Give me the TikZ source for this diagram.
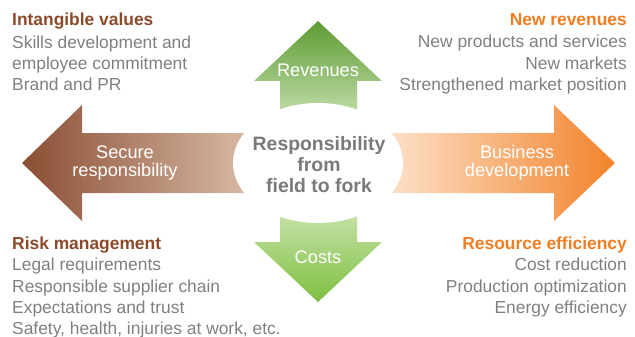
\documentclass[tikz,border=0pt]{standalone}
\usepackage{fontspec}
\setmainfont{Liberation Sans}
\usetikzlibrary{shapes.geometric}
\definecolor{brownhead}{HTML}{8C4A2B}
\definecolor{orangehead}{HTML}{F07D22}
\definecolor{bodygray}{HTML}{808080}
\definecolor{hubgray}{HTML}{7A7A7A}
\definecolor{brownL}{HTML}{8A4E33}
\definecolor{brownR}{HTML}{D9BBA8}
\definecolor{orangeL}{HTML}{FDE2CB}
\definecolor{orangeR}{HTML}{F2832B}
\definecolor{greenDark}{HTML}{5E9C34}
\definecolor{greenLight}{HTML}{BFDBA6}
\definecolor{greenTopLight}{HTML}{C6E2A8}
\definecolor{greenBot}{HTML}{7EBF40}
\begin{document}
\begin{tikzpicture}[x=1pt,y=-1pt,
  bodyL/.style={font=\fontsize{17.4}{20}\selectfont, text=bodygray, inner sep=0pt, anchor=base west},
  bodyR/.style={font=\fontsize{17.4}{20}\selectfont, text=bodygray, inner sep=0pt, anchor=base east},
  headL/.style={font=\fontsize{17.4}{20}\selectfont\bfseries, text=brownhead, inner sep=0pt, anchor=base west},
  headR/.style={font=\fontsize{17.4}{20}\selectfont\bfseries, text=orangehead, inner sep=0pt, anchor=base east},
  arrowlabel/.style={font=\fontsize{18.2}{17.5}\selectfont, text=white, align=center, inner sep=0pt},
  hubtext/.style={font=\fontsize{19.4}{21}\selectfont\bfseries, text=hubgray, align=center, inner sep=0pt}
]
\useasboundingbox (0,0) rectangle (635,337);

% arrows
\path[left color=brownL, right color=brownR]
  (22,163) -- (82,105) -- (82,133) -- (252,133) -- (252,193) -- (82,193) -- (82,221) -- cycle;
\path[left color=orangeL, right color=orangeR]
  (615,163) -- (554,105) -- (554,133) -- (385,133) -- (385,193) -- (554,193) -- (554,221) -- cycle;
\path[top color=greenDark, bottom color=greenLight]
  (318,21) -- (382,81) -- (357,81) -- (357,114) -- (280,114) -- (280,81) -- (254,81) -- cycle;
\path[top color=greenTopLight, bottom color=greenBot]
  (318,302) -- (382,242) -- (357,242) -- (357,212) -- (280,212) -- (280,242) -- (254,242) -- cycle;

% hub
\node[ellipse, fill=white, inner sep=0pt, minimum width=170pt, minimum height=120pt] (hub) at (318,163) {};
\node[hubtext] (hubt) at (319,165) {Responsibility\\from\\field to fork};

% arrow labels
\node[arrowlabel] (rev) at (318,70) {Revenues};
\node[arrowlabel] (cost) at (318,257) {Costs};
\node[arrowlabel] (secure) at (125,163) {Secure\\responsibility};
\node[arrowlabel] (busdev) at (517,163) {Business\\development};

% top left
\node[headL] (iv0) at (12,26) {Intangible values};
\node[bodyL] (iv1) at (12,49) {Skills development and};
\node[bodyL] (iv2) at (12,70) {employee commitment};
\node[bodyL] (iv3) at (12,91) {Brand and PR};

% top right
\node[headR] (nr0) at (627,26) {New revenues};
\node[bodyR] (nr1) at (627,48) {New products and services};
\node[bodyR] (nr2) at (627,70) {New markets};
\node[bodyR] (nr3) at (627,91) {Strengthened market position};

% bottom left
\node[headL] (rm0) at (12,249) {Risk management};
\node[bodyL] (rm1) at (12,270) {Legal requirements};
\node[bodyL] (rm2) at (12,292) {Responsible supplier chain};
\node[bodyL] (rm3) at (12,313) {Expectations and trust};
\node[bodyL] (rm4) at (12,334) {Safety, health, injuries at work, etc.};

% bottom right
\node[headR] (re0) at (627,249) {Resource efficiency};
\node[bodyR] (re1) at (627,270) {Cost reduction};
\node[bodyR] (re2) at (627,292) {Production optimization};
\node[bodyR] (re3) at (627,313) {Energy efficiency};
\end{tikzpicture}
\end{document}
